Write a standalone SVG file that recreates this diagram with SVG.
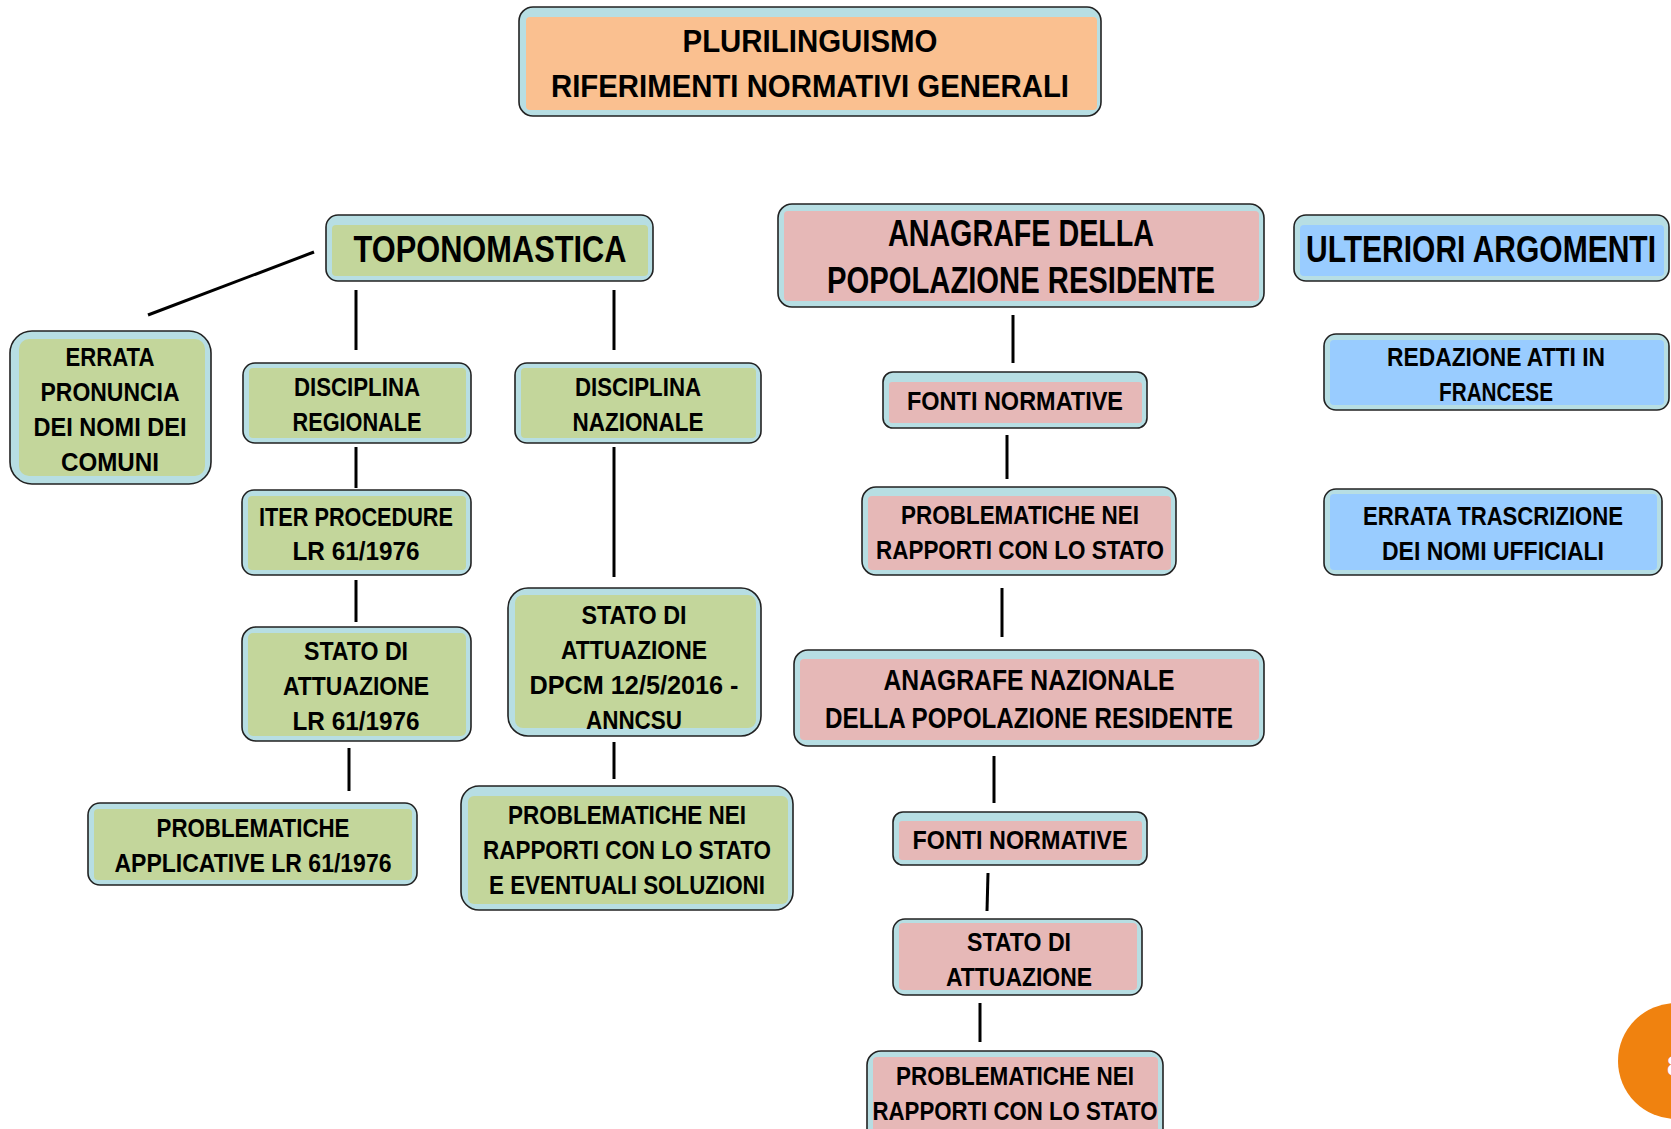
<svg xmlns="http://www.w3.org/2000/svg" width="1671" height="1129" viewBox="0 0 1671 1129">
<style>
.o{fill:#B7DEE3;stroke:#222;stroke-width:1.6}
.g{fill:#C3D69B}.p{fill:#E6B8B7}.k{fill:#FAC090}.b{fill:#99CCFF}
text{font-family:"Liberation Sans",Arial,sans-serif;font-weight:bold;fill:#000;text-anchor:middle}
.s{font-size:25px}.m{font-size:29px}.t{font-size:32px}.l{font-size:36px}
.c line{stroke:#000;stroke-width:3}
</style>
<rect width="1671" height="1129" fill="#fff"/>
<g class="c" id="connectors">
<line x1="148" y1="315" x2="314" y2="252"/>
<line x1="356" y1="290" x2="356" y2="350"/>
<line x1="614" y1="290" x2="614" y2="350"/>
<line x1="356" y1="447" x2="356" y2="488"/>
<line x1="356" y1="580" x2="356" y2="622"/>
<line x1="349" y1="748" x2="349" y2="791"/>
<line x1="614" y1="447" x2="614" y2="577"/>
<line x1="614" y1="742" x2="614" y2="779"/>
<line x1="1013" y1="315" x2="1013" y2="363"/>
<line x1="1007" y1="435" x2="1007" y2="479"/>
<line x1="1002" y1="588" x2="1002" y2="637"/>
<line x1="994" y1="756" x2="994" y2="803"/>
<line x1="988" y1="873" x2="987" y2="911"/>
<line x1="980" y1="1003" x2="980" y2="1042"/>
</g>
<g id="title">
<rect class="o" x="519" y="7" width="582" height="109" rx="14"/>
<rect class="k" x="526" y="17" width="571" height="93" rx="4"/>
<text class="t" x="810" y="52" textLength="255" lengthAdjust="spacingAndGlyphs">PLURILINGUISMO</text>
<text class="t" x="810" y="97" textLength="518" lengthAdjust="spacingAndGlyphs">RIFERIMENTI NORMATIVI GENERALI</text>
</g>
<g id="toponomastica">
<rect class="o" x="326" y="215" width="327" height="66" rx="12"/>
<rect class="g" x="332" y="225" width="316" height="51" rx="4"/>
<text class="l" x="490" y="262" textLength="273" lengthAdjust="spacingAndGlyphs">TOPONOMASTICA</text>
</g>
<g id="anagrafe">
<rect class="o" x="778" y="204" width="486" height="103" rx="14"/>
<rect class="p" x="784" y="211" width="475" height="90" rx="4"/>
<text class="l" x="1021" y="246" textLength="266" lengthAdjust="spacingAndGlyphs">ANAGRAFE DELLA</text>
<text class="l" x="1021" y="293" textLength="388" lengthAdjust="spacingAndGlyphs">POPOLAZIONE RESIDENTE</text>
</g>
<g id="ulteriori">
<rect class="o" x="1294" y="215" width="375" height="66" rx="12"/>
<rect class="b" x="1300" y="225" width="364" height="51" rx="4"/>
<text class="l" x="1481" y="262" textLength="350" lengthAdjust="spacingAndGlyphs">ULTERIORI ARGOMENTI</text>
</g>
<g id="errata-pronuncia">
<rect class="o" x="10" y="331" width="201" height="153" rx="22"/>
<rect class="g" x="19" y="339" width="186" height="137" rx="10"/>
<text class="s" x="110" y="366" textLength="89" lengthAdjust="spacingAndGlyphs">ERRATA</text>
<text class="s" x="110" y="401" textLength="139" lengthAdjust="spacingAndGlyphs">PRONUNCIA</text>
<text class="s" x="110" y="436" textLength="153" lengthAdjust="spacingAndGlyphs">DEI NOMI DEI</text>
<text class="s" x="110" y="471" textLength="98" lengthAdjust="spacingAndGlyphs">COMUNI</text>
</g>
<g id="disciplina-regionale">
<rect class="o" x="243" y="363" width="228" height="80" rx="12"/>
<rect class="g" x="249" y="368" width="217" height="70" rx="4"/>
<text class="s" x="357" y="396" textLength="126" lengthAdjust="spacingAndGlyphs">DISCIPLINA</text>
<text class="s" x="357" y="431" textLength="129" lengthAdjust="spacingAndGlyphs">REGIONALE</text>
</g>
<g id="disciplina-nazionale">
<rect class="o" x="515" y="363" width="246" height="80" rx="12"/>
<rect class="g" x="521" y="368" width="235" height="70" rx="4"/>
<text class="s" x="638" y="396" textLength="126" lengthAdjust="spacingAndGlyphs">DISCIPLINA</text>
<text class="s" x="638" y="431" textLength="131" lengthAdjust="spacingAndGlyphs">NAZIONALE</text>
</g>
<g id="iter-procedure">
<rect class="o" x="242" y="490" width="229" height="85" rx="12"/>
<rect class="g" x="248" y="496" width="218" height="74" rx="4"/>
<text class="s" x="356" y="526" textLength="194" lengthAdjust="spacingAndGlyphs">ITER PROCEDURE</text>
<text class="s" x="356" y="560" textLength="127" lengthAdjust="spacingAndGlyphs">LR 61/1976</text>
</g>
<g id="stato-lr">
<rect class="o" x="242" y="627" width="229" height="114" rx="14"/>
<rect class="g" x="248" y="633" width="218" height="103" rx="5"/>
<text class="s" x="356" y="660" textLength="104" lengthAdjust="spacingAndGlyphs">STATO DI</text>
<text class="s" x="356" y="695" textLength="146" lengthAdjust="spacingAndGlyphs">ATTUAZIONE</text>
<text class="s" x="356" y="730" textLength="127" lengthAdjust="spacingAndGlyphs">LR 61/1976</text>
</g>
<g id="problematiche-applicative">
<rect class="o" x="88" y="803" width="329" height="82" rx="12"/>
<rect class="g" x="94" y="809" width="318" height="71" rx="4"/>
<text class="s" x="253" y="837" textLength="193" lengthAdjust="spacingAndGlyphs">PROBLEMATICHE</text>
<text class="s" x="253" y="872" textLength="277" lengthAdjust="spacingAndGlyphs">APPLICATIVE LR 61/1976</text>
</g>
<g id="stato-dpcm">
<rect class="o" x="508" y="588" width="253" height="148" rx="20"/>
<rect class="g" x="515" y="595" width="241" height="133" rx="8"/>
<text class="s" x="634" y="624" textLength="105" lengthAdjust="spacingAndGlyphs">STATO DI</text>
<text class="s" x="634" y="659" textLength="146" lengthAdjust="spacingAndGlyphs">ATTUAZIONE</text>
<text class="s" x="634" y="694" textLength="209" lengthAdjust="spacingAndGlyphs">DPCM 12/5/2016 -</text>
<text class="s" x="634" y="729" textLength="96" lengthAdjust="spacingAndGlyphs">ANNCSU</text>
</g>
<g id="problematiche-soluzioni">
<rect class="o" x="461" y="786" width="332" height="124" rx="18"/>
<rect class="g" x="468" y="796" width="320" height="108" rx="6"/>
<text class="s" x="627" y="824" textLength="238" lengthAdjust="spacingAndGlyphs">PROBLEMATICHE NEI</text>
<text class="s" x="627" y="859" textLength="288" lengthAdjust="spacingAndGlyphs">RAPPORTI CON LO STATO</text>
<text class="s" x="627" y="894" textLength="276" lengthAdjust="spacingAndGlyphs">E EVENTUALI SOLUZIONI</text>
</g>
<g id="fonti-normative-1">
<rect class="o" x="883" y="372" width="264" height="56" rx="10"/>
<rect class="p" x="889" y="382" width="253" height="41" rx="3"/>
<text class="s" x="1015" y="410" textLength="216" lengthAdjust="spacingAndGlyphs">FONTI NORMATIVE</text>
</g>
<g id="problematiche-stato-1">
<rect class="o" x="862" y="487" width="314" height="88" rx="14"/>
<rect class="p" x="868" y="496" width="303" height="74" rx="4"/>
<text class="s" x="1020" y="524" textLength="238" lengthAdjust="spacingAndGlyphs">PROBLEMATICHE NEI</text>
<text class="s" x="1020" y="559" textLength="288" lengthAdjust="spacingAndGlyphs">RAPPORTI CON LO STATO</text>
</g>
<g id="anagrafe-nazionale">
<rect class="o" x="794" y="650" width="470" height="96" rx="14"/>
<rect class="p" x="800" y="659" width="459" height="81" rx="4"/>
<text class="m" x="1029" y="690" textLength="291" lengthAdjust="spacingAndGlyphs">ANAGRAFE NAZIONALE</text>
<text class="m" x="1029" y="728" textLength="408" lengthAdjust="spacingAndGlyphs">DELLA POPOLAZIONE RESIDENTE</text>
</g>
<g id="fonti-normative-2">
<rect class="o" x="893" y="812" width="254" height="53" rx="10"/>
<rect class="p" x="899" y="821" width="243" height="39" rx="3"/>
<text class="s" x="1020" y="849" textLength="215" lengthAdjust="spacingAndGlyphs">FONTI NORMATIVE</text>
</g>
<g id="stato-attuazione">
<rect class="o" x="893" y="919" width="249" height="76" rx="12"/>
<rect class="p" x="899" y="923" width="238" height="67" rx="4"/>
<text class="s" x="1019" y="951" textLength="104" lengthAdjust="spacingAndGlyphs">STATO DI</text>
<text class="s" x="1019" y="986" textLength="146" lengthAdjust="spacingAndGlyphs">ATTUAZIONE</text>
</g>
<g id="problematiche-stato-2">
<rect class="o" x="867" y="1051" width="296" height="95" rx="14"/>
<rect class="p" x="873" y="1057" width="285" height="85" rx="4"/>
<text class="s" x="1015" y="1085" textLength="238" lengthAdjust="spacingAndGlyphs">PROBLEMATICHE NEI</text>
<text class="s" x="1015" y="1120" textLength="285" lengthAdjust="spacingAndGlyphs">RAPPORTI CON LO STATO</text>
</g>
<g id="redazione-atti">
<rect class="o" x="1324" y="334" width="345" height="76" rx="12"/>
<rect class="b" x="1330" y="340" width="334" height="65" rx="4"/>
<text class="s" x="1496" y="366" textLength="218" lengthAdjust="spacingAndGlyphs">REDAZIONE ATTI IN</text>
<text class="s" x="1496" y="401" textLength="114" lengthAdjust="spacingAndGlyphs">FRANCESE</text>
</g>
<g id="errata-trascrizione">
<rect class="o" x="1324" y="489" width="338" height="86" rx="12"/>
<rect class="b" x="1330" y="494" width="327" height="76" rx="4"/>
<text class="s" x="1493" y="525" textLength="260" lengthAdjust="spacingAndGlyphs">ERRATA TRASCRIZIONE</text>
<text class="s" x="1493" y="560" textLength="222" lengthAdjust="spacingAndGlyphs">DEI NOMI UFFICIALI</text>
</g>
<g id="page-badge">
<circle cx="1676" cy="1061" r="58" fill="#F0820F"/>
<text x="1667" y="1076" style="font-size:30px;fill:#fff;text-anchor:start">8</text>
</g>
</svg>
